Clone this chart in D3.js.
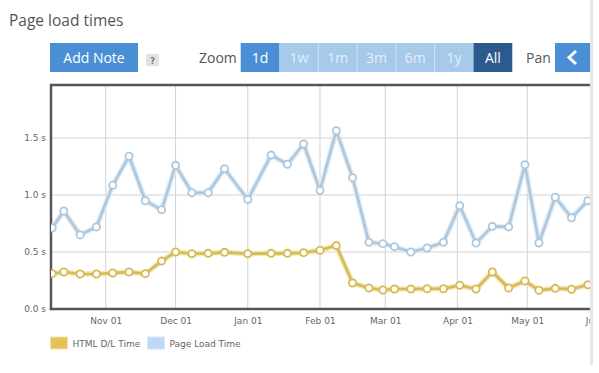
<!DOCTYPE html>
<html><head><meta charset="utf-8">
<script src="https://cdn.jsdelivr.net/npm/d3@7"></script>
<style>
html,body{margin:0;padding:0;background:#fff;}
svg{display:block;}
</style></head>
<body>
<svg id="chart" width="599" height="373"></svg>
<script>
// ---- data ----
const dates = ["2012-10-09","2012-10-14","2012-10-21","2012-10-28","2012-11-04","2012-11-11","2012-11-18","2012-11-25","2012-12-01","2012-12-08","2012-12-15","2012-12-22","2013-01-01","2013-01-11","2013-01-18","2013-01-25","2013-02-01","2013-02-08","2013-02-15","2013-02-22","2013-02-28","2013-03-05","2013-03-12","2013-03-19","2013-03-26","2013-04-02","2013-04-09","2013-04-16","2013-04-23","2013-04-30","2013-05-06","2013-05-13","2013-05-20","2013-05-27"];
const pageLoadTime = [0.71,0.86,0.65,0.72,1.085,1.34,0.95,0.87,1.26,1.02,1.02,1.23,0.96,1.35,1.27,1.447,1.04,1.564,1.152,0.585,0.573,0.547,0.50,0.535,0.585,0.906,0.579,0.725,0.72,1.266,0.579,0.98,0.80,0.95];
const htmlDLTime = [0.31,0.325,0.307,0.307,0.316,0.325,0.31,0.42,0.50,0.485,0.488,0.497,0.485,0.488,0.488,0.494,0.515,0.556,0.228,0.184,0.167,0.175,0.175,0.178,0.178,0.208,0.175,0.325,0.184,0.246,0.164,0.181,0.173,0.213];
const seriesNames = ["HTML D/L Time","Page Load Time"];
const yTicks = [0,0.5,1.0,1.5];
const zoomLabels = ["1d","1w","1m","3m","6m","1y","All"];
const title = "Page load times";

// ---- layout ----
const parse = d3.timeParse("%Y-%m-%d");
const svg = d3.select("#chart");
const clipW = 590;
const plot = {left:51, top:85, bottom:309};
const pxPerDay = 2.329;
const startDate = new Date(2012,9,8,12);
const endDate = new Date(2013,6,1);
const nDays = (endDate - startDate)/864e5;
const x = d3.scaleTime().domain([startDate,endDate]).range([plot.left, plot.left + nDays*pxPerDay]);
const y = d3.scaleLinear().domain([0,1.965]).range([plot.bottom, plot.top]);

const colors = {yellow:"#d5bb52", yellowShadow:"#f1e6bd", blue:"#adc7dc", blueShadow:"#e0ebf4"};

svg.append("defs").append("clipPath").attr("id","outer")
  .append("rect").attr("x",0).attr("y",0).attr("width",clipW).attr("height",373);
svg.select("defs").append("clipPath").attr("id","plotclip")
  .append("rect").attr("x",plot.left).attr("y",plot.top-2).attr("width",clipW-plot.left).attr("height",plot.bottom-plot.top+4);

const root = svg.append("g").attr("clip-path","url(#outer)");

// title
root.append("text").attr("x",9).attr("y",26).text(title)
  .attr("font-family","Open Sans").attr("font-size",15.5).attr("fill","#555");

// Add Note button
root.append("rect").attr("x",50).attr("y",43).attr("width",88).attr("height",29).attr("fill","#4a8fd6");
root.append("text").attr("x",94).attr("y",63).attr("text-anchor","middle").text("Add Note")
  .attr("font-family","Open Sans").attr("font-size",14).attr("fill","#fff");
root.append("rect").attr("x",146).attr("y",54).attr("width",13).attr("height",12).attr("fill","#e2e2e2");
root.append("text").attr("x",152.5).attr("y",63.5).attr("text-anchor","middle").text("?")
  .attr("font-family","DejaVu Sans").attr("font-weight","bold").attr("font-size",8).attr("fill","#777");

// Zoom
root.append("text").attr("x",199).attr("y",63).text("Zoom")
  .attr("font-family","Open Sans").attr("font-size",14).attr("fill","#555");
const bx = d3.scaleBand().domain(zoomLabels).range([240.7, 512.3]);
const zb = root.append("g").selectAll("g").data(zoomLabels).join("g");
zb.append("rect").attr("x",d=>bx(d)).attr("y",43).attr("width",bx.bandwidth()).attr("height",29)
  .attr("fill",(d,i)=> i===0 ? "#4a8fd6" : (d==="All" ? "#2b5a8d" : "#a7c9ea"));
zb.filter((d,i)=>i>1 && d!=="All").append("line")
  .attr("x1",d=>bx(d)).attr("x2",d=>bx(d)).attr("y1",43).attr("y2",72).attr("stroke","#cfe1f3").attr("stroke-width",1);
zb.append("text").attr("x",d=>bx(d)+bx.bandwidth()/2).attr("y",63).attr("text-anchor","middle").text(d=>d)
  .attr("font-family","Open Sans").attr("font-size",14)
  .attr("fill",(d,i)=> (i===0 || d==="All") ? "#fff" : "#e4eef9");

// Pan
root.append("text").attr("x",526).attr("y",63).text("Pan")
  .attr("font-family","Open Sans").attr("font-size",14).attr("fill","#555");
root.append("rect").attr("x",555).attr("y",43).attr("width",40).attr("height",29).attr("fill","#4a8fd6");
root.append("path").attr("d","M576,51 L569,57.5 L576,64").attr("fill","none").attr("stroke","#fff").attr("stroke-width",3);

// grid
const monthTicks = d3.timeMonth.range(new Date(2012,10,1), endDate);
root.append("g").selectAll("line").data(monthTicks).join("line")
  .attr("x1",d=>x(d)).attr("x2",d=>x(d)).attr("y1",plot.top).attr("y2",plot.bottom)
  .attr("stroke","#d2d2d2").attr("stroke-width",1);
root.append("g").selectAll("line").data(yTicks.slice(1)).join("line")
  .attr("x1",plot.left).attr("x2",clipW).attr("y1",d=>y(d)).attr("y2",d=>y(d))
  .attr("stroke","#d2d2d2").attr("stroke-width",1);

// frame
root.append("line").attr("x1",plot.left).attr("x2",clipW).attr("y1",plot.top).attr("y2",plot.top)
  .attr("stroke","#555").attr("stroke-width",2.5);
root.append("line").attr("x1",plot.left-1.2).attr("x2",clipW).attr("y1",plot.bottom).attr("y2",plot.bottom)
  .attr("stroke","#555").attr("stroke-width",2.5);
root.append("line").attr("x1",plot.left).attr("x2",plot.left).attr("y1",plot.top-1.2).attr("y2",plot.bottom+1.2)
  .attr("stroke","#555").attr("stroke-width",2.5);

// y axis labels
const yAxis = d3.axisLeft(y).tickValues(yTicks).tickSize(0).tickPadding(4).tickFormat(d=>d3.format(".1f")(d)+" s");
const ya = root.append("g").attr("transform",`translate(${plot.left-1},0)`).call(yAxis);
ya.select(".domain").remove();
ya.selectAll("text").attr("font-family","DejaVu Sans").attr("font-size",9).attr("fill","#666");

// x axis labels
const xAxis = d3.axisBottom(x).tickValues(monthTicks).tickSize(0).tickPadding(9).tickFormat(d3.timeFormat("%b %d"));
const xa = root.append("g").attr("transform",`translate(0,${plot.bottom})`).call(xAxis);
xa.select(".domain").remove();
xa.selectAll("text").attr("font-family","DejaVu Sans").attr("font-size",9).attr("fill","#666");

// series
const pts = dates.map(parse);
const series = [
  {name:seriesNames[1], vals:pageLoadTime, c:colors.blue, s:colors.blueShadow},
  {name:seriesNames[0], vals:htmlDLTime, c:colors.yellow, s:colors.yellowShadow}
];
const pg = root.append("g").attr("clip-path","url(#plotclip)");
const line = d3.line().x((d,i)=>x(pts[i])).y(d=>y(d));
series.forEach(s=>{
  pg.append("path").attr("d",line(s.vals)).attr("fill","none").attr("stroke",s.s).attr("stroke-width",5.5)
    .attr("stroke-linejoin","round");
  pg.append("path").attr("d",line(s.vals)).attr("fill","none").attr("stroke",s.c).attr("stroke-width",2.6)
    .attr("stroke-linejoin","round");
  pg.append("g").selectAll("circle").data(s.vals).join("circle")
    .attr("cx",(d,i)=>x(pts[i])).attr("cy",d=>y(d)).attr("r",3.6)
    .attr("fill","#fff").attr("stroke",s.c).attr("stroke-width",1.8);
});

// legend
const lg = root.append("g");
const legendItems = [
  {name:seriesNames[0], fill:"#e6c255", stroke:"#f3e2b0", x:50},
  {name:seriesNames[1], fill:"#bcdaf3", stroke:"#d6e7f5", x:147}
];
legendItems.forEach(l=>{
  lg.append("rect").attr("x",l.x+0.5).attr("y",337).attr("width",17).attr("height",12)
    .attr("fill",l.fill).attr("stroke",l.stroke).attr("stroke-width",1);
  lg.append("text").attr("x",l.x+22.5).attr("y",346.5).text(l.name)
    .attr("font-family","DejaVu Sans").attr("font-size",9).attr("fill","#666");
});

// right border strip
svg.append("rect").attr("x",590).attr("y",0).attr("width",3).attr("height",365).attr("fill","#e6e6e6");
</script>
</body></html>
